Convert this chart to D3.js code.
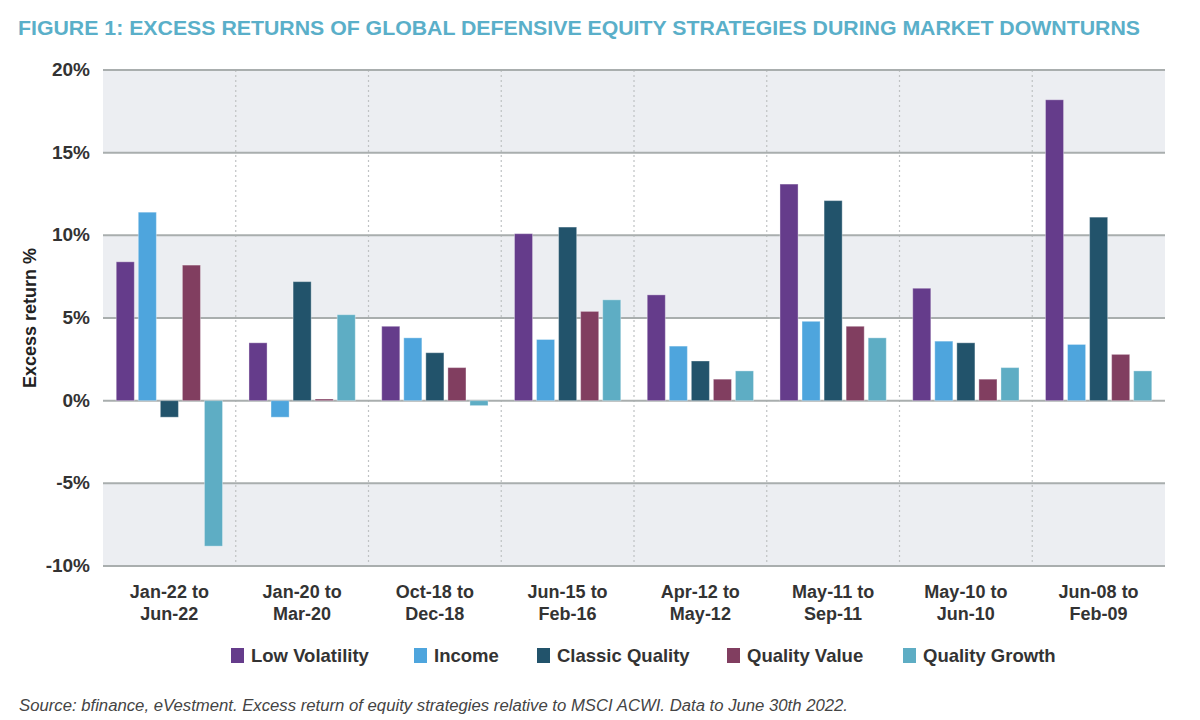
<!DOCTYPE html>
<html>
<head>
<meta charset="utf-8">
<script src="https://cdn.jsdelivr.net/npm/d3@7"></script>
<style>
  body { margin: 0; background: #fff; }
  svg { font-family: "Liberation Sans", Arial, sans-serif; }
</style>
</head>
<body>
<svg width="1200" height="720"></svg>
<script>
const periods = [
  ['Jan-22 to', 'Jun-22'],
  ['Jan-20 to', 'Mar-20'],
  ['Oct-18 to', 'Dec-18'],
  ['Jun-15 to', 'Feb-16'],
  ['Apr-12 to', 'May-12'],
  ['May-11 to', 'Sep-11'],
  ['May-10 to', 'Jun-10'],
  ['Jun-08 to', 'Feb-09']
];
const seriesNames = ['Low Volatility', 'Income', 'Classic Quality', 'Quality Value', 'Quality Growth'];
const lowVolatility  = [8.4, 3.5, 4.5, 10.1, 6.4, 13.1, 6.8, 18.2];
const income         = [11.4, -1.0, 3.8, 3.7, 3.3, 4.8, 3.6, 3.4];
const classicQuality = [-1.0, 7.2, 2.9, 10.5, 2.4, 12.1, 3.5, 11.1];
const qualityValue   = [8.2, 0.1, 2.0, 5.4, 1.3, 4.5, 1.3, 2.8];
const qualityGrowth  = [-8.8, 5.2, -0.3, 6.1, 1.8, 3.8, 2.0, 1.8];
const yTicks = [20, 15, 10, 5, 0, -5, -10];
const colors = ['#653c8b', '#4ea5dd', '#22536b', '#813e60', '#5eadc4'];

const allSeries = [lowVolatility, income, classicQuality, qualityValue, qualityGrowth];

const svg = d3.select('svg');
const margin = { top: 70, right: 35, bottom: 154, left: 103 };
const plotLeft = margin.left, plotRight = 1200 - margin.right;
const plotTop = margin.top, plotBottom = 720 - margin.bottom;

const yScale = d3.scaleLinear().domain([-10, 20]).range([plotBottom, plotTop]);
const x0 = d3.scaleBand().domain(d3.range(periods.length)).range([plotLeft, plotRight]).padding(0);
const x1 = d3.scaleBand().domain(seriesNames).range([0, x0.bandwidth()])
  .paddingInner(0.18).paddingOuter(0.6);

// shaded bands
const bands = [[20, 15], [10, 5], [-5, -10]];
svg.selectAll('.band').data(bands).enter().append('rect')
  .attr('x', plotLeft).attr('width', plotRight - plotLeft)
  .attr('y', d => yScale(d[0]))
  .attr('height', d => yScale(d[1]) - yScale(d[0]))
  .attr('fill', '#eceef2');

// dotted separators
svg.selectAll('.sep').data(d3.range(1, periods.length)).enter().append('line')
  .attr('x1', d => x0(d)).attr('x2', d => x0(d))
  .attr('y1', plotTop).attr('y2', plotBottom)
  .attr('stroke', '#bfc2c4').attr('stroke-width', 1.2)
  .attr('stroke-dasharray', '2,3');

// gridlines
svg.selectAll('.grid').data(yTicks).enter().append('line')
  .attr('x1', plotLeft).attr('x2', plotRight)
  .attr('y1', d => yScale(d)).attr('y2', d => yScale(d))
  .attr('stroke', '#a9aeae').attr('stroke-width', 2);

// y tick labels
svg.selectAll('.ytick').data(yTicks).enter().append('text')
  .attr('x', plotLeft - 13)
  .attr('y', d => yScale(d) + 6)
  .attr('text-anchor', 'end')
  .attr('font-size', 19).attr('font-weight', 'bold').attr('fill', '#333')
  .text(d => d + '%');

const yLabelX = 30, yLabelY = (plotTop + plotBottom) / 2;
svg.append('text')
  .attr('x', yLabelX).attr('y', yLabelY)
  .attr('transform', `rotate(-90,${yLabelX},${yLabelY})`)
  .attr('dy', '0.35em')
  .attr('text-anchor', 'middle')
  .attr('font-size', 18).attr('font-weight', 'bold').attr('fill', '#222')
  .text('Excess return %');

// bars
const barData = [];
periods.forEach((p, i) => seriesNames.forEach((s, k) => barData.push({ i, k, v: allSeries[k][i] })));
svg.selectAll('.bar').data(barData).enter().append('rect')
  .attr('x', d => x0(d.i) + x1(seriesNames[d.k]))
  .attr('width', x1.bandwidth())
  .attr('y', d => yScale(Math.max(0, d.v)))
  .attr('height', d => Math.abs(yScale(d.v) - yScale(0)))
  .attr('fill', d => colors[d.k])
  .attr('stroke', 'rgba(255,255,255,0.35)').attr('stroke-width', 1);

// x labels, two lines each
[0, 1].forEach(line => {
  svg.selectAll('.xl' + line).data(periods).enter().append('text')
    .attr('x', (d, i) => x0(i) + x0.bandwidth() / 2)
    .attr('y', plotBottom + 32 + line * 22)
    .attr('text-anchor', 'middle')
    .attr('font-size', 18).attr('font-weight', 'bold').attr('fill', '#333')
    .text(d => d[line]);
});

// legend
const legendX = [231, 414, 537, 727, 903];
svg.selectAll('.legsw').data(seriesNames).enter().append('rect')
  .attr('x', (d, i) => legendX[i]).attr('y', 648)
  .attr('width', 13).attr('height', 15).attr('fill', (d, i) => colors[i]);
svg.selectAll('.legtx').data(seriesNames).enter().append('text')
  .attr('x', (d, i) => legendX[i] + 20).attr('y', 662)
  .attr('font-size', 18.5).attr('fill', '#333').attr('font-weight', 'bold')
  .text(d => d);

// title
svg.append('text')
  .attr('x', 18).attr('y', 35)
  .attr('font-size', 21).attr('font-weight', 'bold').attr('fill', '#5aafc9')
  .attr('textLength', 1122).attr('lengthAdjust', 'spacingAndGlyphs')
  .text('FIGURE 1: EXCESS RETURNS OF GLOBAL DEFENSIVE EQUITY STRATEGIES DURING MARKET DOWNTURNS');

// source
svg.append('text')
  .attr('x', 19).attr('y', 711)
  .attr('font-size', 16).attr('font-style', 'italic').attr('fill', '#444')
  .attr('textLength', 829).attr('lengthAdjust', 'spacingAndGlyphs')
  .text('Source: bfinance, eVestment. Excess return of equity strategies relative to MSCI ACWI. Data to June 30th 2022.');
</script>
</body>
</html>
